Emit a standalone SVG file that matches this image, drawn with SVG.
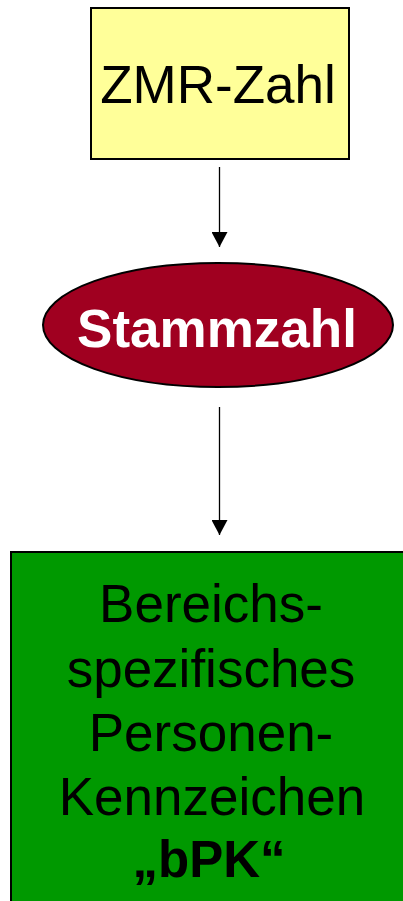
<svg xmlns="http://www.w3.org/2000/svg" width="403" height="901" viewBox="0 0 403 901">
  <style>
    .box { stroke: #000; stroke-width: 2; }
    .lbl { font-family: "Liberation Sans", Arial, sans-serif; text-anchor: middle; }
    .conn { stroke: #000; stroke-width: 1.3; fill: none; }
  </style>
  <defs>
    <!-- arrowhead pointing along the line direction -->
    <marker id="head" viewBox="0 0 15 16" refX="15" refY="8" markerWidth="15" markerHeight="16" markerUnits="userSpaceOnUse" orient="auto">
      <path d="M0,0 L15,8 L0,16 Z" fill="#000"/>
    </marker>
  </defs>
  <rect width="403" height="901" fill="#fff"/>

  <g id="zmr-zahl">
    <rect class="box" x="91" y="8" width="258" height="151" fill="#FFFF99"/>
    <text class="lbl" x="218" y="103" font-size="53" fill="#000">ZMR-Zahl</text>
  </g>

  <g id="stammzahl">
    <ellipse class="box" cx="218" cy="325" rx="175" ry="62" fill="#A00020"/>
    <text class="lbl" x="217" y="347" font-size="53" font-weight="bold" fill="#fff">Stammzahl</text>
  </g>

  <g id="bpk">
    <rect class="box" x="11" y="552" width="410" height="360" fill="#009900"/>
    <text class="lbl" x="211" y="622" font-size="53" fill="#000">Bereichs-</text>
    <text class="lbl" x="211" y="687" font-size="53" fill="#000">spezifisches</text>
    <text class="lbl" x="211" y="751" font-size="53" fill="#000">Personen-</text>
    <text class="lbl" x="212" y="815" font-size="53" fill="#000">Kennzeichen</text>
    <text class="lbl" x="209" y="877" font-size="51" font-weight="bold" fill="#000">„bPK“</text>
  </g>

  <g id="connectors">
    <line class="conn" x1="219.5" y1="167" x2="219.5" y2="247" marker-end="url(#head)"/>
    <line class="conn" x1="219.5" y1="407" x2="219.5" y2="535" marker-end="url(#head)"/>
  </g>
</svg>
